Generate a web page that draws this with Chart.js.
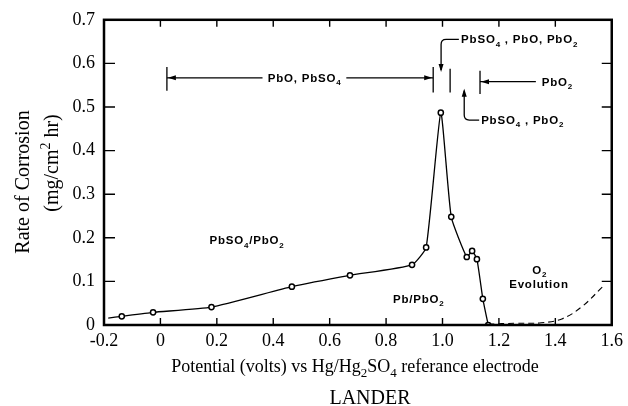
<!DOCTYPE html>
<html>
<head>
<meta charset="utf-8">
<script src="https://cdn.jsdelivr.net/npm/chart.js@4.4.0/dist/chart.umd.min.js"></script>
<style>
  html, body { margin: 0; padding: 0; background: #fff; }
  #wrap { width: 628px; height: 406px; }
</style>
</head>
<body>
<div id="wrap"><canvas id="chart" width="628" height="406"></canvas></div>
<script>
// measured corrosion rate vs potential (first point is only where the curve starts)
const potential = [-0.185, -0.137, -0.026, 0.181, 0.466, 0.672, 0.892, 0.942, 0.994, 1.031, 1.086, 1.105, 1.122, 1.143, 1.162];
const corrosion = [0.016, 0.020, 0.029, 0.041, 0.088, 0.114, 0.138, 0.178, 0.487, 0.248, 0.156, 0.170, 0.151, 0.060, 0.0];
const hasMarker = [false, true, true, true, true, true, true, true, true, true, true, true, true, true, true];

// dashed O2 evolution curve
const o2Potential = [1.162, 1.26, 1.35, 1.423, 1.494, 1.568];
const o2Rate = [0.002, 0.004, 0.005, 0.014, 0.042, 0.088];

const xTicks = [-0.2, 0, 0.2, 0.4, 0.6, 0.8, 1.0, 1.2, 1.4, 1.6];
const yTicks = [0, 0.1, 0.2, 0.3, 0.4, 0.5, 0.6, 0.7];

const serif = '"Liberation Serif", "Times New Roman", serif';
const sans = '"Liberation Sans", Arial, sans-serif';

// text with _d subscripts and ^d superscripts
function drawRich(ctx, str, x, y, size, family, weight, align, spacing) {
    const parts = str.split(/([_^]\d)/).filter(s => s).map(s =>
        s[0] === '_' ? { t: s.slice(1), off: size * 0.28 } :
        s[0] === '^' ? { t: s.slice(1), off: -size * 0.4 } : { t: s, off: 0 });
    const font = (p) => `${weight} ${p.off ? Math.round(size * 0.72) : size}px ${family}`;
    ctx.letterSpacing = spacing || '0px';
    let w = 0;
    parts.forEach(p => { ctx.font = font(p); p.w = ctx.measureText(p.t).width; w += p.w; });
    let cx = align === 'center' ? x - w / 2 : align === 'right' ? x - w : x;
    ctx.textAlign = 'left';
    ctx.textBaseline = 'alphabetic';
    parts.forEach(p => { ctx.font = font(p); ctx.fillText(p.t, cx, y + p.off); cx += p.w; });
    ctx.letterSpacing = '0px';
}

function arrowHead(ctx, x, y, dir) {
    // dir: 'left' | 'right' | 'up' | 'down', tip at (x, y)
    const L = 8, W = 2.5;
    ctx.beginPath();
    if (dir === 'left') { ctx.moveTo(x, y); ctx.lineTo(x + L, y - W); ctx.lineTo(x + L, y + W); }
    if (dir === 'right') { ctx.moveTo(x, y); ctx.lineTo(x - L, y - W); ctx.lineTo(x - L, y + W); }
    if (dir === 'down') { ctx.moveTo(x, y); ctx.lineTo(x - W, y - L); ctx.lineTo(x + W, y - L); }
    if (dir === 'up') { ctx.moveTo(x, y); ctx.lineTo(x - W, y + L); ctx.lineTo(x + W, y + L); }
    ctx.closePath();
    ctx.fill();
}

// frame with inward tick marks on all four sides
const framePlugin = {
    id: 'frame',
    afterDatasetsDraw(chart) {
        const { ctx, chartArea: a, scales: { x, y } } = chart;
        ctx.save();
        ctx.strokeStyle = '#000';
        ctx.lineWidth = 2.5;
        ctx.strokeRect(a.left, a.top, a.right - a.left, a.bottom - a.top);
        ctx.lineWidth = 1.4;
        ctx.beginPath();
        xTicks.slice(1, -1).forEach(v => {
            const p = x.getPixelForValue(v);
            ctx.moveTo(p, a.bottom); ctx.lineTo(p, a.bottom - 7);
            ctx.moveTo(p, a.top); ctx.lineTo(p, a.top + 7);
        });
        yTicks.slice(1, -1).forEach(v => {
            const p = y.getPixelForValue(v);
            ctx.moveTo(a.left, p); ctx.lineTo(a.left + 11, p);
            ctx.moveTo(a.right, p); ctx.lineTo(a.right - 10, p);
        });
        ctx.stroke();
        ctx.restore();
    }
};

// phase annotations, placed in data units
const notesPlugin = {
    id: 'notes',
    afterDatasetsDraw(chart) {
        const { ctx, scales: { x, y } } = chart;
        const px = v => x.getPixelForValue(v);
        const py = v => y.getPixelForValue(v);
        ctx.save();
        ctx.fillStyle = '#000';
        ctx.strokeStyle = '#000';
        ctx.lineWidth = 1.3;

        // vertical boundary bars
        const bars = [[0.023, 0.537, 0.592], [0.967, 0.533, 0.592], [1.027, 0.533, 0.588], [1.133, 0.530, 0.583]];
        ctx.beginPath();
        bars.forEach(([bx, y0, y1]) => { ctx.moveTo(px(bx), py(y0)); ctx.lineTo(px(bx), py(y1)); });
        ctx.stroke();

        // PbO, PbSO4 span
        const ly = py(0.567);
        ctx.beginPath();
        ctx.moveTo(px(0.023), ly); ctx.lineTo(px(0.362), ly);
        ctx.moveTo(px(0.659), ly); ctx.lineTo(px(0.967), ly);
        ctx.stroke();
        arrowHead(ctx, px(0.023) + 1, ly, 'left');
        arrowHead(ctx, px(0.967) - 1, ly, 'right');

        // PbO2 arrow
        const ry = py(0.558);
        ctx.beginPath();
        ctx.moveTo(px(1.331), ry); ctx.lineTo(px(1.133), ry);
        ctx.stroke();
        arrowHead(ctx, px(1.133) + 1, ry, 'left');

        // hook arrow from top label
        const tx = px(0.995), ty = py(0.655);
        ctx.beginPath();
        ctx.moveTo(px(1.058), ty); ctx.lineTo(tx + 5, ty);
        ctx.quadraticCurveTo(tx, ty, tx, ty + 5);
        ctx.lineTo(tx, py(0.585));
        ctx.stroke();
        arrowHead(ctx, tx, py(0.580), 'down');

        // hook arrow from lower label
        const bx = px(1.077), by = py(0.470);
        ctx.beginPath();
        ctx.moveTo(px(1.130), by); ctx.lineTo(bx + 5, by);
        ctx.quadraticCurveTo(bx, by, bx, by - 5);
        ctx.lineTo(bx, py(0.537));
        ctx.stroke();
        arrowHead(ctx, bx, py(0.542), 'up');

        const label = (s, vx, vy, align) => drawRich(ctx, s, px(vx), py(vy) + 4, 11.5, sans, 'bold', align, '0.8px');
        label('PbO, PbSO_4', 0.511, 0.567, 'center');
        label('PbO_2', 1.352, 0.558, 'left');
        label('PbSO_4 , PbO, PbO_2', 1.066, 0.655, 'left');
        label('PbSO_4 , PbO_2', 1.137, 0.470, 'left');
        label('PbSO_4/PbO_2', 0.307, 0.194, 'center');
        label('Pb/PbO_2', 0.916, 0.059, 'center');
        label('O_2', 1.345, 0.126, 'center');
        label('Evolution', 1.342, 0.093, 'center');
        ctx.restore();
    }
};

// axis titles and the caption
const titlesPlugin = {
    id: 'titles',
    afterDraw(chart) {
        const { ctx } = chart;
        ctx.save();
        ctx.fillStyle = '#000';
        drawRich(ctx, 'Potential (volts) vs Hg/Hg_2SO_4 referance electrode', 355, 372, 18, serif, 'normal', 'center');
        drawRich(ctx, 'LANDER', 370, 404, 20, serif, 'normal', 'center');
        ctx.translate(23, 182);
        ctx.rotate(-Math.PI / 2);
        drawRich(ctx, 'Rate of Corrosion', 0, 6, 20, serif, 'normal', 'center');
        ctx.rotate(Math.PI / 2);
        ctx.translate(29, -19);
        ctx.rotate(-Math.PI / 2);
        drawRich(ctx, '(mg/cm^2 hr)', 0, 6, 20, serif, 'normal', 'center');
        ctx.restore();
    }
};

new Chart(document.getElementById('chart'), {
    type: 'scatter',
    data: {
        datasets: [
            {
                data: potential.map((v, i) => ({ x: v, y: corrosion[i] })),
                showLine: true,
                borderColor: '#000',
                borderWidth: 1.3,
                tension: 0.15,
                pointRadius: hasMarker.map(m => (m ? 2.6 : 0)),
                pointBackgroundColor: '#fff',
                pointBorderColor: '#000',
                pointBorderWidth: 1.5,
            },
            {
                data: o2Potential.map((v, i) => ({ x: v, y: o2Rate[i] })),
                showLine: true,
                borderColor: '#000',
                borderWidth: 1.1,
                borderDash: [6, 4],
                tension: 0.4,
                pointRadius: 0,
                clip: 4,
            },
        ],
    },
    options: {
        responsive: false,
        animation: false,
        devicePixelRatio: 1,
        layout: { padding: { top: 15, right: 15, left: 0, bottom: 0 } },
        plugins: {
            legend: { display: false },
            tooltip: { enabled: false },
        },
        scales: {
            x: {
                type: 'linear',
                min: -0.2,
                max: 1.6,
                afterBuildTicks: (scale) => { scale.ticks = xTicks.map(v => ({ value: v })); },
                afterFit: (scale) => { scale.height = 81; },
                grid: { display: false, drawTicks: false },
                border: { display: false },
                ticks: {
                    color: '#000',
                    padding: 5,
                    maxRotation: 0,
                    autoSkip: false,
                    font: { family: serif, size: 18 },
                    callback: (v) => (v === 0 ? '0' : v.toFixed(1)),
                },
            },
            y: {
                min: 0,
                max: 0.7,
                afterBuildTicks: (scale) => { scale.ticks = yTicks.map(v => ({ value: v })); },
                afterFit: (scale) => { scale.width = 104; },
                grid: { display: false, drawTicks: false },
                border: { display: false },
                ticks: {
                    color: '#000',
                    padding: 9,
                    autoSkip: false,
                    font: { family: serif, size: 18 },
                    callback: (v) => (v === 0 ? '0' : v.toFixed(1)),
                },
            },
        },
    },
    plugins: [framePlugin, notesPlugin, titlesPlugin],
});
</script>
</body>
</html>
